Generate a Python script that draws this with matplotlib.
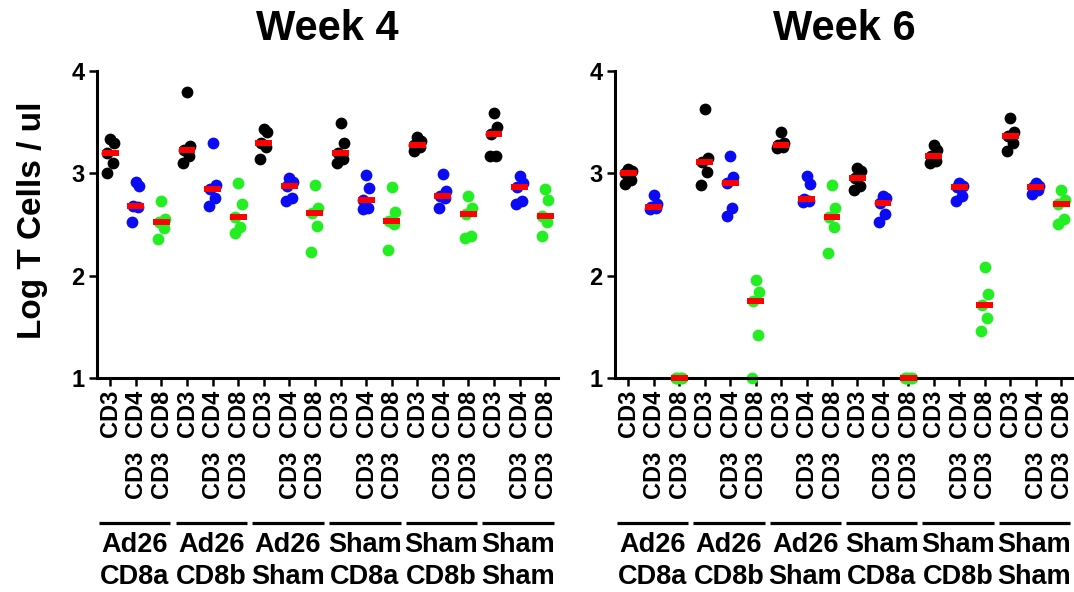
import matplotlib
matplotlib.use("Agg")
import matplotlib.pyplot as plt
import matplotlib.transforms as mtransforms
import numpy as np

plt.rcParams['font.family'] = ['Liberation Sans', 'DejaVu Sans']
plt.rcParams['font.weight'] = 'bold'

groups = ["Ad26\nCD8a", "Ad26\nCD8b", "Ad26\nSham", "Sham\nCD8a", "Sham\nCD8b", "Sham\nSham"]
markers = ["CD3", "CD4", "CD8"]

# log T cells / ul, five animals per group
week4_cd3 = [[3.34, 3.30, 3.20, 3.10, 3.00], [3.79, 3.27, 3.23, 3.17, 3.10],
             [3.43, 3.40, 3.30, 3.26, 3.14], [3.49, 3.30, 3.20, 3.14, 3.10],
             [3.35, 3.32, 3.28, 3.26, 3.22], [3.59, 3.45, 3.38, 3.17, 3.17]]
week4_cd4 = [[2.92, 2.88, 2.68, 2.67, 2.52], [3.30, 2.89, 2.85, 2.76, 2.68],
             [2.95, 2.92, 2.88, 2.76, 2.73], [2.98, 2.86, 2.74, 2.66, 2.65],
             [2.99, 2.83, 2.78, 2.76, 2.66], [2.97, 2.91, 2.87, 2.73, 2.70]]
week4_cd8 = [[2.73, 2.55, 2.52, 2.47, 2.36], [2.91, 2.70, 2.57, 2.48, 2.42],
             [2.89, 2.66, 2.61, 2.49, 2.23], [2.87, 2.62, 2.53, 2.50, 2.25],
             [2.78, 2.66, 2.60, 2.39, 2.37], [2.85, 2.74, 2.58, 2.52, 2.39]]

week6_cd3 = [[3.04, 3.02, 3.00, 2.93, 2.90], [3.63, 3.15, 3.11, 3.01, 2.89],
             [3.40, 3.30, 3.28, 3.26, 3.25], [3.05, 3.02, 2.95, 2.88, 2.84],
             [3.28, 3.23, 3.17, 3.12, 3.10], [3.54, 3.40, 3.36, 3.30, 3.22]]
week6_cd4 = [[2.79, 2.70, 2.67, 2.66, 2.65], [3.17, 2.96, 2.91, 2.66, 2.58],
             [2.97, 2.90, 2.75, 2.73, 2.72], [2.78, 2.76, 2.71, 2.60, 2.52],
             [2.91, 2.88, 2.87, 2.78, 2.73], [2.91, 2.88, 2.87, 2.84, 2.80]]
week6_cd8 = [[1.00, 1.00, 1.00, 1.00, 1.00], [1.96, 1.84, 1.75, 1.42, 1.00],
             [2.89, 2.66, 2.57, 2.48, 2.22], [1.00, 1.00, 1.00, 1.00, 1.00],
             [2.08, 1.82, 1.71, 1.59, 1.46], [2.84, 2.74, 2.70, 2.55, 2.50]]

colors = {"CD3": "black", "CD4": "#0a0af5", "CD8": "#22ee22"}
jitter = [0.0, 0.13, -0.11, 0.09, -0.14]

fig = plt.figure(figsize=(10.74, 5.92), dpi=100)
ax1 = fig.add_axes([0.0903, 0.3615, 0.4292, 0.5186])
ax2 = fig.add_axes([0.5726, 0.3615, 0.4274, 0.5186])


def px_y(y):
    return 1 - y / 592.0


def draw_panel(ax, title, cd3, cd4, cd8):
    data = {"CD3": cd3, "CD4": cd4, "CD8": cd8}
    for g in range(len(groups)):
        for m, name in enumerate(markers):
            x0 = 3 * g + m
            vals = np.array(data[name][g])
            xs = x0 + np.array(jitter[:len(vals)])
            ax.scatter(xs, vals, s=72, color=colors[name], zorder=2,
                       clip_on=False, linewidths=0)
            ax.hlines(np.median(vals), x0 - 0.33, x0 + 0.33, color='red',
                      lw=4.3, zorder=3, clip_on=False)

    ax.set_xlim(-0.52, 17.5)
    ax.set_ylim(1, 4)
    ax.set_yticks([1, 2, 3, 4])
    ax.set_xticks(range(18))
    ax.set_xticklabels(markers * len(groups), rotation=90, fontsize=17,
                       fontweight='bold')
    ax.tick_params(axis='x', length=6, width=1.8, pad=2.5)
    ax.tick_params(axis='y', length=6, width=1.8, pad=3, labelsize=17)
    for s in ["top", "right"]:
        ax.spines[s].set_visible(False)
    for s in ["left", "bottom"]:
        ax.spines[s].set_linewidth(2.2)
    ax.set_title(title, fontsize=30, fontweight='bold', pad=22)

    trans = mtransforms.blended_transform_factory(ax.transData, fig.transFigure)
    for g in range(len(groups)):
        for m in (1, 2):
            ax.text(3 * g + m, px_y(474), "CD3", rotation=90, ha='center',
                    va='center', fontsize=17, fontweight='bold', transform=trans)
        ax.plot([3 * g - 0.45, 3 * g + 2.35], [px_y(523)] * 2, color='black',
                lw=2.3, transform=trans, clip_on=False, solid_capstyle='butt')
        ax.text(3 * g + 0.95, px_y(561), groups[g], ha='center', va='center',
                fontsize=19.5, fontweight='bold', linespacing=1.25,
                transform=trans)


draw_panel(ax1, "Week 4", week4_cd3, week4_cd4, week4_cd8)
draw_panel(ax2, "Week 6", week6_cd3, week6_cd4, week6_cd8)

fig.text(33 / 1074, px_y(220), "Log T Cells / ul", rotation=90, ha='center',
         va='center', fontsize=24, fontweight='bold')

fig.savefig("out.png", dpi=100)
